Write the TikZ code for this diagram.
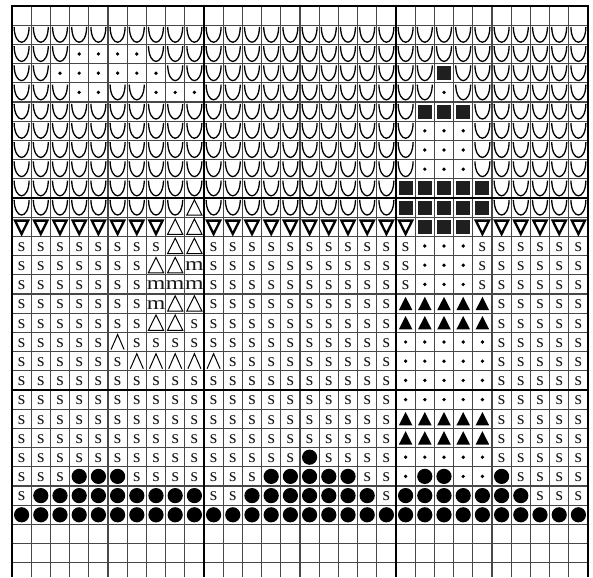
\documentclass[tikz,border=0pt]{standalone}
\usepackage{fontspec}
\setmainfont{Liberation Serif}
\tikzset{
  gridthin/.style={line width=1.1pt, draw=black!72},
  gridthick/.style={line width=2.6pt, draw=black},
  cupline/.style={line width=1.3pt, draw=black},
  downtri/.style={line width=2.3pt, draw=black, line join=miter},
  uptri/.style={line width=1pt, draw=black},
  caret/.style={line width=1pt, draw=black},
  letter/.style={inner sep=0pt, font=\fontsize{19}{19}\selectfont, text=black!90},
  smalldot/.style={fill=black},
  bigdot/.style={fill=black},
  blacksq/.style={fill=black!88},
  blacktri/.style={fill=black},
}
\newcount\gcol
\newcount\grow
\newcommand\gpos{\pgfmathsetmacro\gx{12+19.2*(\the\gcol+0.5)}\pgfmathsetmacro\gy{-(6+19.2*(\the\grow+0.5))}}
\newcommand\gat[1]{\gpos\begin{scope}[shift={(\gx,\gy)}]#1\end{scope}}
\def\gsymE{}
\def\gsymU{\gat{\draw[cupline] (-7.5,7.8) .. controls (-7,-12.5) and (7,-12.5) .. (7.5,7.8);}}
\def\gsymD{\gat{\draw[downtri] (-6.6,6.2) -- (6.6,6.2) -- (0,-7.2) -- cycle;}}
\def\gsymT{\gat{\draw[uptri] (-7.6,-7.6) -- (7.6,-7.6) -- (0,7.8) -- cycle;}}
\def\gsymA{\gat{\draw[caret] (-6.5,-7.5) -- (0,7.5) -- (6.5,-7.5);}}
\def\gsyms{\gat{\node[letter] (s-\the\grow-\the\gcol) at (0,-1) {s};}}
\def\gsymm{\gat{\node[letter] (m-\the\grow-\the\gcol) at (0,-1) {\scalebox{1.25}[1]{m}};}}
\def\gsymd{\gat{\fill[smalldot] (0,0) circle (1.85);}}
\def\gsymO{\gat{\fill[bigdot] (0,0) circle (7.6);}}
\def\gsymQ{\gat{\fill[blacksq] (-7,-7) rectangle (7,7);}}
\def\gsymK{\gat{\fill[blacktri] (-6.8,-6.6) -- (6.8,-6.6) -- (0,6.8) -- cycle;}}
\def\gparse#1{\ifx#1\relax\else\csname gsym#1\endcsname\advance\gcol by 1 \expandafter\gparse\fi}
\begin{document}
\begin{tikzpicture}[x=1pt,y=1pt]
\useasboundingbox (0,0) rectangle (593,-577);
% thin grid
\foreach \k in {0,...,30} \draw[gridthin] ({12+19.2*\k},-6) -- ({12+19.2*\k},-577);
\foreach \k in {0,...,29} \draw[gridthin] (12,{-(6+19.2*\k)}) -- (588,{-(6+19.2*\k)});
% thick grid
\foreach \k in {0,10,20,30} \draw[gridthick] ({12+19.2*\k},-4.7) -- ({12+19.2*\k},-577);
\foreach \k in {0,10,20} \draw[gridthick] (10.7,{-(6+19.2*\k)}) -- (589.3,{-(6+19.2*\k)});
% symbols
\foreach \rowstr [count=\r from 0] in {
EEEEEEEEEE EEEEEEEEEE EEEEEEEEEE,
UUUUUUUUUU UUUUUUUUUU UUUUUUUUUU,
UUUddddUUU UUUUUUUUUU UUUUUUUUUU,
UUddddddUU UUUUUUUUUU UUQUUUUUUU,
UUUddUUddd UUUUUUUUUU UUdUUUUUUU,
UUUUUUUUUU UUUUUUUUUU UQQQUUUUUU,
UUUUUUUUUU UUUUUUUUUU UdddUUUUUU,
UUUUUUUUUU UUUUUUUUUU UdddUUUUUU,
UUUUUUUUUU UUUUUUUUUU UdddUUUUUU,
UUUUUUUUUU UUUUUUUUUU QQQQQUUUUU,
UUUUUUUUUT UUUUUUUUUU QQQQQUUUUU,
DDDDDDDDTT DDDDDDDDDD DQQQDDDDDD,
ssssssssTT ssssssssss sdddssssss,
sssssssTTm ssssssssss sdddssssss,
sssssssmmm ssssssssss sdddssssss,
sssssssmTT ssssssssss KKKKKsssss,
sssssssTTs ssssssssss KKKKKsssss,
sssssAssss ssssssssss dddddsssss,
ssssssAAAA Asssssssss dddddsssss,
ssssssssss ssssssssss dddddsssss,
ssssssssss ssssssssss dddddsssss,
ssssssssss ssssssssss KKKKKsssss,
ssssssssss ssssssssss KKKKKsssss,
ssssssssss sssssOssss dddddsssss,
sssOOOssss sssOOOOOss dOOddOssss,
sOOOOOOOOO ssOOOOOOOs OOOOOOOsss,
OOOOOOOOOO OOOOOOOOOO OOOOOOOOOO}
{\grow=\r\relax\gcol=0\relax\expandafter\gparse\rowstr\relax}
\end{tikzpicture}
\end{document}
